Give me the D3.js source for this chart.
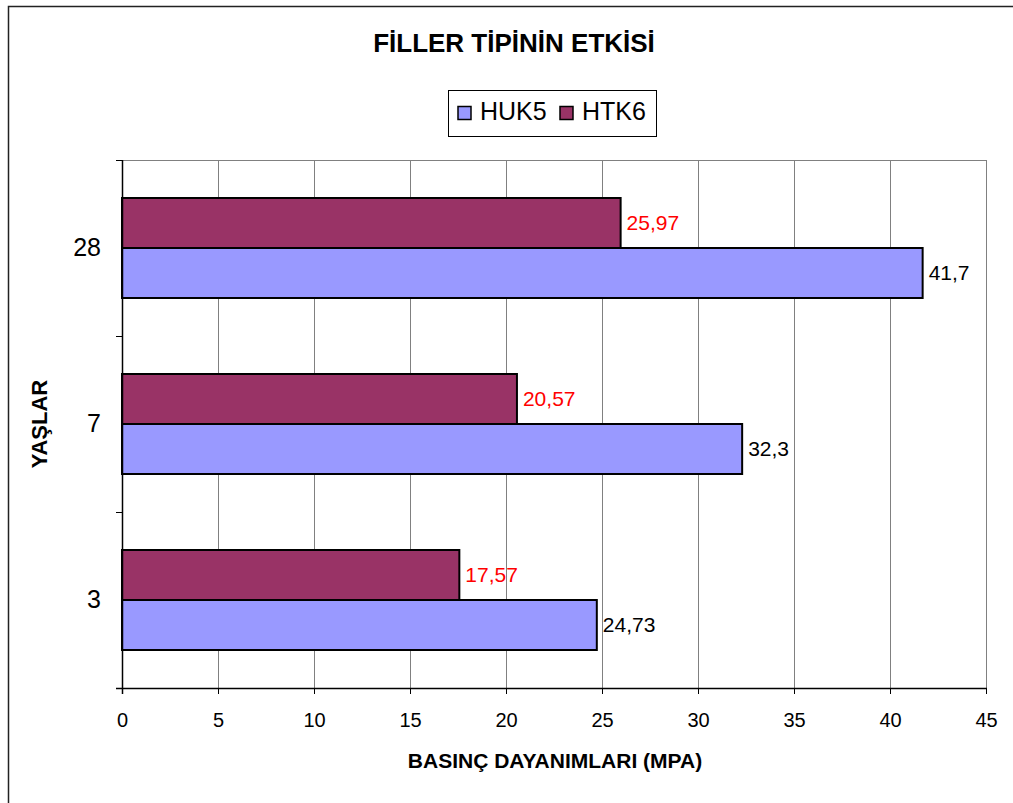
<!DOCTYPE html>
<html>
<head>
<meta charset="utf-8">
<script src="https://cdn.jsdelivr.net/npm/d3@7"></script>
<style>
  html, body { margin: 0; padding: 0; background: #fff; }
  svg { display: block; font-family: "Liberation Sans", Arial, sans-serif; }
</style>
</head>
<body>
<svg id="chart" width="1013" height="803"></svg>
<script>
// Ages (days), listed bottom to top
const ages = ["3", "7", "28"];
// Compressive strength (MPa) for each mix
const huk5 = [24.73, 32.3, 41.7];
const htk6 = [17.57, 20.57, 25.97];
const seriesNames = ["HUK5", "HTK6"];
const seriesColors = ["#9999FF", "#993366"];
const labelColors = ["#000000", "#FF0000"];
const xTicks = [0, 5, 10, 15, 20, 25, 30, 35, 40, 45];

const svg = d3.select("#chart");
const plot = { left: 122, right: 986, top: 160, bottom: 688 };

// outer frame
svg.append("rect")
  .attr("x", 8.5).attr("y", 6.5).attr("width", 1020).attr("height", 820)
  .attr("fill", "none").attr("stroke", "#222").attr("stroke-width", 1.5);

const x = d3.scaleLinear().domain([0, 45]).range([plot.left, plot.right]);
const y = d3.scaleBand().domain(ages.slice().reverse()).range([plot.top, plot.bottom]);
const inner = d3.scaleBand().domain(["HTK6", "HUK5"]).range([0, 100]);
const groupOffset = (y.bandwidth() - 100) / 2;

// vertical gridlines
svg.append("g").selectAll("line").data(xTicks.slice(1))
  .join("line")
  .attr("x1", d => x(d) + 0.5).attr("x2", d => x(d) + 0.5)
  .attr("y1", plot.top).attr("y2", plot.bottom)
  .attr("stroke", "#808080").attr("stroke-width", 1);

// top border of plot area
svg.append("line")
  .attr("x1", plot.left).attr("x2", plot.right + 1)
  .attr("y1", plot.top + 0.5).attr("y2", plot.top + 0.5)
  .attr("stroke", "#808080").attr("stroke-width", 1);

// bars
const rows = ages.map((a, i) => ({ age: a, HUK5: huk5[i], HTK6: htk6[i] }));
seriesNames.forEach((s, si) => {
  const g = svg.append("g");
  g.selectAll("rect").data(rows).join("rect")
    .attr("x", x(0))
    .attr("y", d => y(d.age) + groupOffset + inner(s))
    .attr("width", d => x(d[s]) - x(0))
    .attr("height", inner.bandwidth())
    .attr("fill", seriesColors[si])
    .attr("stroke", "#000").attr("stroke-width", 2);
  g.selectAll("text").data(rows).join("text")
    .attr("x", d => x(d[s]) + 6)
    .attr("y", d => y(d.age) + groupOffset + inner(s) + inner.bandwidth() / 2)
    .attr("dy", "0.35em")
    .attr("font-size", 21)
    .attr("fill", labelColors[si])
    .text(d => String(d[s]).replace(".", ","));
});

// x axis
const xAxis = svg.append("g")
  .attr("transform", `translate(0,${plot.bottom})`)
  .call(d3.axisBottom(x).tickValues(xTicks).tickSize(6).tickPadding(19).tickFormat(d => d));
xAxis.select(".domain").attr("stroke", "#000").attr("stroke-width", 1.5).attr("d", `M${plot.left - 6},0.5H${plot.right + 1}`);
xAxis.selectAll(".tick line").attr("stroke", "#000");
xAxis.selectAll(".tick text")
  .attr("font-family", "'Liberation Sans', Arial, sans-serif")
  .attr("font-size", 20).attr("fill", "#000");

// y axis
const yAxis = svg.append("g")
  .attr("transform", `translate(${plot.left},0)`)
  .call(d3.axisLeft(y).tickSize(0).tickPadding(21));
yAxis.select(".domain").attr("stroke", "#000").attr("stroke-width", 1.5).attr("d", `M0.5,${plot.top}V${plot.bottom + 6}`);
yAxis.selectAll(".tick text").attr("font-size", 25).attr("fill", "#000");
// ticks between categories
const bounds = y.domain().map(d => y(d)).concat([plot.bottom]);
yAxis.append("g").selectAll("line").data(bounds).join("line")
  .attr("x1", -6).attr("x2", 0)
  .attr("y1", d => d + 0.5).attr("y2", d => d + 0.5)
  .attr("stroke", "#000");

// title
svg.append("text")
  .attr("x", 514).attr("y", 52)
  .attr("text-anchor", "middle")
  .attr("font-size", 26).attr("font-weight", "bold")
  .text("FİLLER TİPİNİN ETKİSİ");

// legend
const legend = svg.append("g").attr("transform", "translate(448,90)");
legend.append("rect").attr("x", 0.5).attr("y", 0.5).attr("width", 208).attr("height", 46)
  .attr("fill", "#fff").attr("stroke", "#000").attr("stroke-width", 1);
const legendX = [10, 112];
seriesNames.forEach((s, si) => {
  legend.append("rect")
    .attr("x", legendX[si]).attr("y", 16.5).attr("width", 13).attr("height", 13)
    .attr("fill", seriesColors[si]).attr("stroke", "#000").attr("stroke-width", 1.5);
  legend.append("text")
    .attr("x", legendX[si] + 22).attr("y", 30)
    .attr("font-size", 25)
    .text(s);
});

// axis titles
svg.append("text")
  .attr("x", 555).attr("y", 768)
  .attr("text-anchor", "middle")
  .attr("font-size", 21).attr("font-weight", "bold")
  .text("BASINÇ DAYANIMLARI (MPA)");

svg.append("text")
  .attr("transform", "translate(47,424) rotate(-90)")
  .attr("text-anchor", "middle")
  .attr("font-size", 22).attr("font-weight", "bold")
  .text("YAŞLAR");
</script>
</body>
</html>
